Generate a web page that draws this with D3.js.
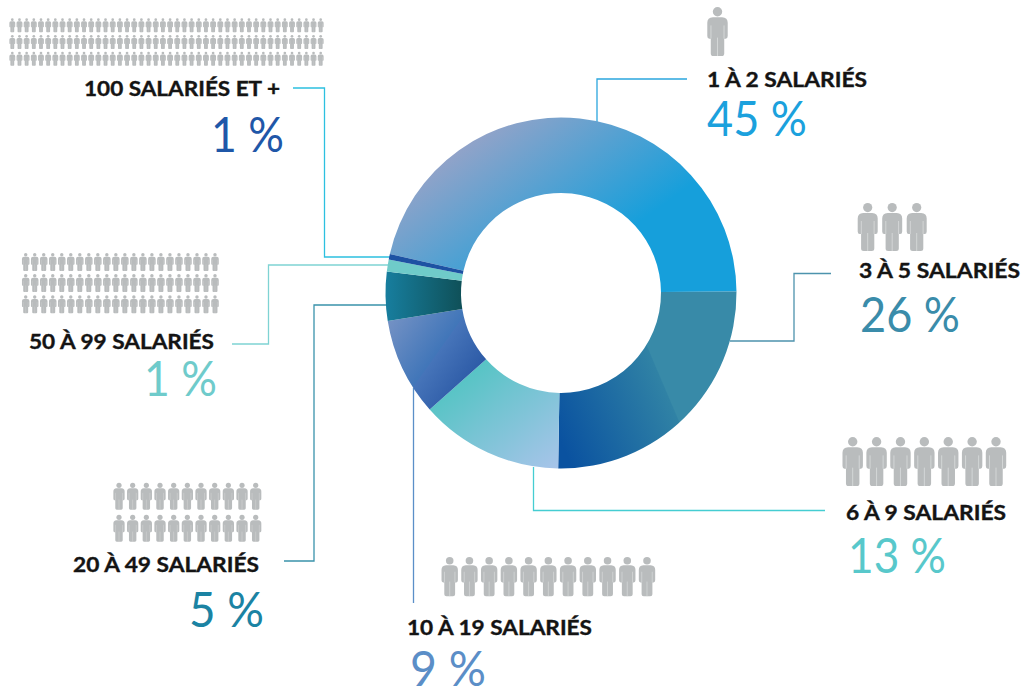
<!DOCTYPE html>
<html lang="fr">
<head>
<meta charset="utf-8">
<script src="https://cdn.jsdelivr.net/npm/d3@7/dist/d3.min.js"></script>
<style>
html,body{margin:0;padding:0;background:#fff;overflow:hidden}
svg{display:block}
.lab{font-family:Lato,sans-serif;font-weight:700;fill:#141414;stroke:#141414;stroke-width:.35px}
.pct{font-family:Lato,sans-serif;font-weight:400}
</style>
</head>
<body>
<svg id="c" width="1021" height="688"></svg>
<script>
// ---- data ----
const categories = ["1 À 2 SALARIÉS","3 À 5 SALARIÉS","6 À 9 SALARIÉS","10 À 19 SALARIÉS","20 À 49 SALARIÉS","50 À 99 SALARIÉS","100 SALARIÉS ET +"];
const percentLabels = [45,26,13,9,5,1,1];
// share of the ring actually drawn for each slice
const drawnShares = [46.3,25.4,13.2,9.0,4.5,1.1,0.5];
const iconRows = [1,1,1,1,2,3,3];
const iconCols = [1,3,7,11,11,22,44];

// ---- styles & layout ----
const pctColors = ["#1ba1dd","#3a8caa","#58c8cb","#5b8ec7","#1b83a3","#6fcbcb","#1f57a8"];
const lineColors = ["#2ba6de","#4d93ad","#45cdd2","#5a8fc8","#3a93ab","#7fd3d3","#2cc0e0"];
const labelX = [707,859,846,407,73,29,84];
const labelY = [87,278,520,635,572,349,96];
const labelW = [160,161,160,185,186,185,196];
const pctX = [707,860,848,410,189,144,211];
const pctY = [136,332,573,686,627,396,152];
const pctW = [100,100,98,76,75,73,73];
const iconX0 = [717.5,867.7,852.7,449.7,119,25.7,12.3];
const iconX1 = [717.5,916.7,996,647,255.7,215,320.7];
const iconY = [[7],[203],[437],[557],[482.7,514.7],[253,274,295.3],[18.3,35,51.7]];
const iconH = [49,48,49,39.3,27,18,14];
const leaders = [
  [[597,122],[597,79],[687,79]],
  [[730,341],[794,341],[794,273.5],[831,273.5]],
  [[533.5,467],[533.5,510.5],[825,510.5]],
  [[413.5,388],[413.5,603]],
  [[387,305],[314,305],[314,561],[284,561]],
  [[388,265],[268.5,265],[268.5,344],[232,344]],
  [[390,257],[324.5,257],[324.5,88],[293,88]]
];
const grads = [
  {p:[470,133,570,272],s:[[0,"#96a3c8"],[1,"#169fdb"]]},
  {p:[560,440,668,394],s:[[0,"#0a52a0"],[.99,"#3082a5"],[1,"#388aa8"]]},
  {p:[430,400,511,502],s:[[0,"#55c4c4"],[1,"#a6c4e9"]]},
  {p:[388,323,471,382],s:[[0,"#7391c4"],[.56,"#4176b9"],[.57,"#4674b9"],[1,"#2c5aa6"]]},
  {p:[386,300,462,300],s:[[0,"#177e9e"],[1,"#0f5058"]]},
  {p:[0,0,1,0],s:[[0,"#6fcbc9"],[1,"#6fcbc9"]]},
  {p:[0,0,1,0],s:[[0,"#1d52a3"],[1,"#1d52a3"]]}
];
const cx=561, cy=293, R=175.5, r=100;
const START = 282.8*Math.PI/180;

const svg = d3.select("#c");
const defs = svg.append("defs");
grads.forEach((g,i)=>{
  const lg = defs.append("linearGradient").attr("id","g"+i).attr("gradientUnits","userSpaceOnUse")
    .attr("x1",g.p[0]-cx).attr("y1",g.p[1]-cy).attr("x2",g.p[2]-cx).attr("y2",g.p[3]-cy);
  g.s.forEach(s=>lg.append("stop").attr("offset",s[0]).attr("stop-color",s[1]));
});

// person glyph in a 20 x 48 box
const personBody = "M5.5,10L14.5,10Q20,10.4 20,15.5L20,28.5Q20,31 18,31L16.6,31L16.6,45.5Q16.6,48 14,48L6,48Q3.4,48 3.4,45.5L3.4,31L2,31Q0,31 0,28.5L0,15.5Q0,10.4 5.5,10Z";
const sym = defs.append("g").attr("id","person");
sym.append("circle").attr("cx",10).attr("cy",4.6).attr("r",4.6).attr("fill","#b9bcbd");
sym.append("path").attr("d",personBody).attr("fill","#b9bcbd");
sym.append("path").attr("d","M10,30V48M3.6,18V31M16.4,18V31").attr("stroke","#dfe1e1").attr("stroke-width",.7).attr("fill","none");

// leaders
const line = d3.line();
svg.append("g").selectAll("path").data(leaders).join("path")
  .attr("d",d=>line(d)).attr("fill","none").attr("stroke-width",1.3)
  .attr("stroke",(d,i)=>lineColors[i]);

// donut
const pie = d3.pie().sort(null).startAngle(START).endAngle(START+2*Math.PI);
const arc = d3.arc().innerRadius(r).outerRadius(R);
svg.append("g").attr("transform",`translate(${cx},${cy})`)
  .selectAll("path").data(pie(drawnShares)).join("path")
  .attr("d",arc)
  .attr("fill",(d,i)=>`url(#g${i})`);

// icons
const icons = svg.append("g");
categories.forEach((c,i)=>{
  const x = d3.scalePoint().domain(d3.range(iconCols[i])).range([iconX0[i],iconX1[i]]);
  const k = iconH[i]/48;
  iconY[i].forEach(y=>{
    icons.append("g").selectAll("use").data(d3.range(iconCols[i])).join("use")
      .attr("href","#person")
      .attr("transform",d=>`translate(${(iconCols[i]===1?iconX0[i]:x(d))-10*k},${y}) scale(${k})`);
  });
});

// texts
svg.append("g").selectAll("text").data(categories).join("text")
  .attr("class","lab").attr("x",(d,i)=>labelX[i]).attr("y",(d,i)=>labelY[i])
  .attr("font-size",20).attr("textLength",(d,i)=>labelW[i]).attr("lengthAdjust","spacingAndGlyphs")
  .text(d=>d);
svg.append("g").selectAll("text").data(percentLabels).join("text")
  .attr("class","pct").attr("x",(d,i)=>pctX[i]).attr("y",(d,i)=>pctY[i])
  .attr("font-size",49).attr("fill",(d,i)=>pctColors[i])
  .attr("textLength",(d,i)=>pctW[i]).attr("lengthAdjust","spacingAndGlyphs")
  .text(d=>d+" %");
</script>
</body>
</html>
